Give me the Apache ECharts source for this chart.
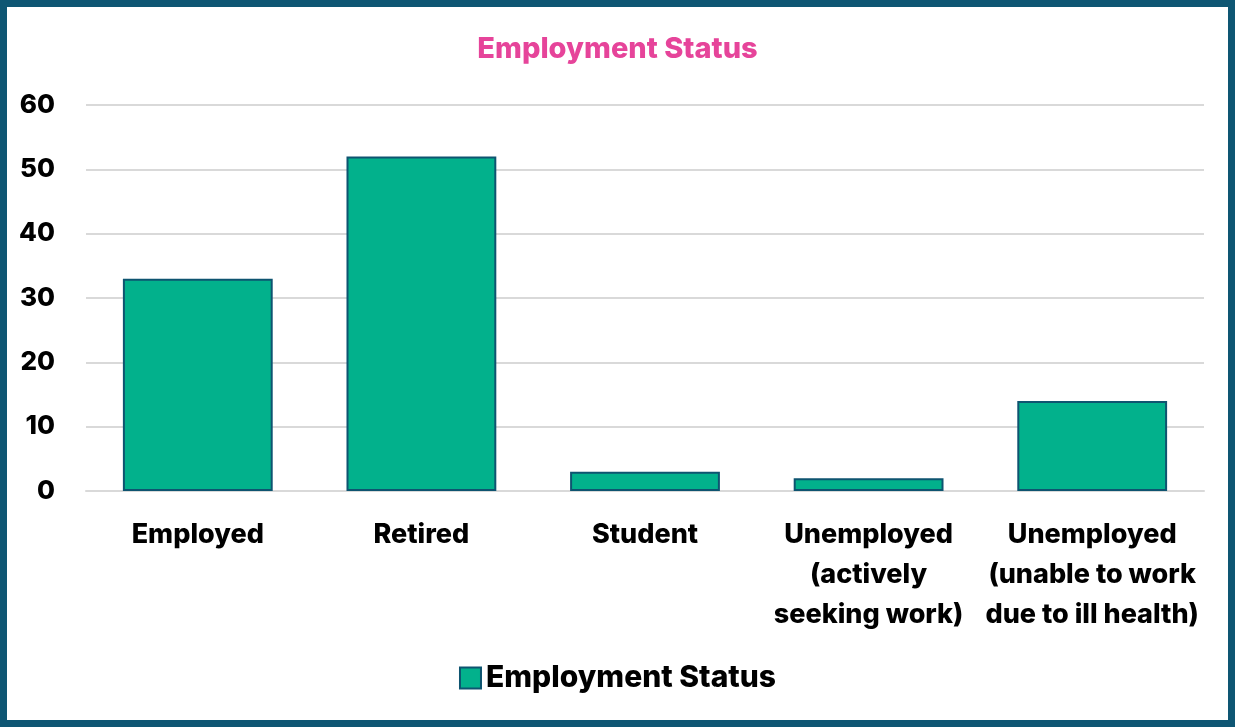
<!DOCTYPE html>
<html>
<head>
<meta charset="utf-8">
<script src="https://cdn.jsdelivr.net/npm/echarts@6/dist/echarts.min.js"></script>
<style>
  html, body { margin: 0; padding: 0; background: #fff; }
  .frame {
    width: 1235px;
    height: 727px;
    box-sizing: border-box;
    border: 7px solid #0e5673;
    position: relative;
  }
  #chart {
    position: absolute;
    left: -7px;
    top: -7px;
    width: 1235px;
    height: 727px;
  }
</style>
</head>
<body>
<div class="frame"><div id="chart"></div></div>
<script>
const categories = [
  'Employed',
  'Retired',
  'Student',
  'Unemployed\n(actively\nseeking work)',
  'Unemployed\n(unable to work\ndue to ill health)'
];
const values = [33, 52, 3, 2, 14];
const seriesName = 'Employment Status';

const chart = echarts.init(document.getElementById('chart'));
const font = 'Inter, "Open Sans", sans-serif';

chart.setOption({
  animation: false,
  title: {
    text: 'Employment Status',
    left: 'center',
    top: 30,
    textStyle: { color: '#e6449a', fontSize: 29, fontWeight: 800, fontFamily: font }
  },
  legend: {
    bottom: 29,
    left: 'center',
    icon: 'rect',
    itemWidth: 21,
    itemHeight: 21,
    itemGap: 9,
    textStyle: { color: '#000', fontSize: 30, fontWeight: 800, fontFamily: font },
    data: [seriesName]
  },
  grid: { left: 86, right: 31, top: 105, bottom: 236 },
  xAxis: {
    type: 'category',
    data: categories,
    axisLine: { lineStyle: { color: '#d9d9d9', width: 2 } },
    axisTick: { show: false },
    axisLabel: {
      interval: 0,
      margin: 24,
      color: '#000',
      fontSize: 27,
      fontWeight: 800,
      fontFamily: font,
      lineHeight: 40
    }
  },
  yAxis: {
    type: 'value',
    min: 0,
    max: 60,
    interval: 10,
    axisLine: { show: false },
    axisTick: { show: false },
    splitLine: { lineStyle: { color: '#d9d9d9', width: 2 } },
    axisLabel: {
      margin: 31,
      color: '#000',
      fontSize: 26,
      fontWeight: 800,
      fontFamily: font
    }
  },
  series: [{
    name: seriesName,
    type: 'bar',
    data: values,
    barWidth: '67%',
    itemStyle: { color: '#02b18c', borderColor: '#0e5470', borderWidth: 2 }
  }]
});
</script>
</body>
</html>
